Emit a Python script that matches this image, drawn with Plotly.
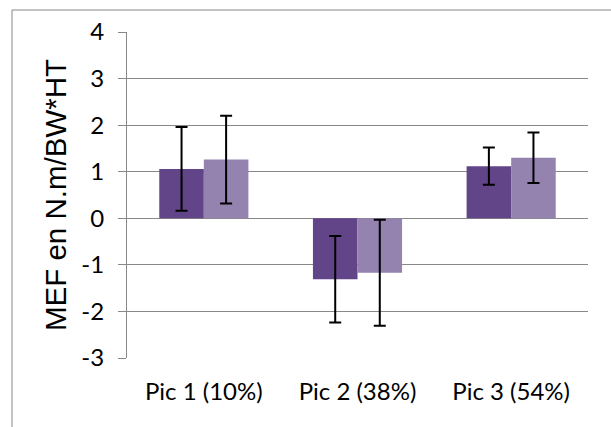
import plotly.graph_objects as go

categories = ["Pic 1 (10%)", "Pic 2 (38%)", "Pic 3 (54%)"]
series1_values = [1.06, -1.31, 1.12]
series1_errors = [0.90, 0.93, 0.40]
series2_values = [1.26, -1.17, 1.30]
series2_errors = [0.94, 1.14, 0.54]
y_ticks = [-3, -2, -1, 0, 1, 2, 3, 4]
y_tick_text = ["-3", "-2", "-1", "0", "1", "2", "3", "4"]
y_title = "MEF en N.m/BW*HT"

GRID = "#888888"
FONT = "Lato"

fig = go.Figure()
fig.add_trace(go.Bar(
    x=categories, y=series1_values, name="S1",
    marker=dict(color="#624589", line=dict(width=0)),
    error_y=dict(type="data", array=series1_errors, color="black", thickness=2, width=6),
))
fig.add_trace(go.Bar(
    x=categories, y=series2_values, name="S2",
    marker=dict(color="#9482AF", line=dict(width=0)),
    error_y=dict(type="data", array=series2_errors, color="black", thickness=2, width=6),
))

fig.update_layout(
    width=611, height=427,
    margin=dict(l=127, r=23, t=32, b=69, autoexpand=False),
    paper_bgcolor="white", plot_bgcolor="white",
    barmode="group", bargap=0.42, bargroupgap=0,
    showlegend=False,
    font=dict(family=FONT, color="black"),
    xaxis=dict(
        type="category", range=[-0.5, 2.5], showline=False, showgrid=False,
        ticks="", tickfont=dict(size=24, family=FONT, color="black"), ticklabelstandoff=17,
        zeroline=False, automargin=False,
    ),
    xaxis2=dict(
        overlaying="x", anchor="free", position=3 / 7, range=[-0.5, 2.5],
        tickvals=[-0.5, 0.5, 1.5, 2.5], showticklabels=False,
        ticks="outside", ticklen=8, tickcolor=GRID, tickwidth=1,
        showline=True, linecolor=GRID, linewidth=1, showgrid=False, zeroline=False,
        automargin=False,
    ),
    yaxis=dict(
        range=[-3, 4], tickvals=y_ticks, ticktext=y_tick_text,
        showgrid=True, gridcolor=GRID, gridwidth=1,
        showline=True, linecolor=GRID, linewidth=1, zeroline=False,
        ticks="outside", ticklen=8, tickcolor=GRID, tickwidth=1,
        tickfont=dict(size=24, family=FONT, color="black"), ticklabelstandoff=9,
        title=dict(text=y_title, font=dict(size=29.5, family="Liberation Sans", color="black"), standoff=6),
        automargin=False,
    ),
    shapes=[dict(
        type="rect", xref="paper", yref="paper",
        x0=(12 - 127) / 461, x1=1.2, y0=-0.4, y1=(358 - 10) / 326,
        line=dict(color="#878787", width=1), fillcolor="rgba(0,0,0,0)", layer="below",
    )],
)

fig.write_html(
    "out.html",
    config={"displayModeBar": False},
    post_script="document.body.style.margin='0px';",
)
